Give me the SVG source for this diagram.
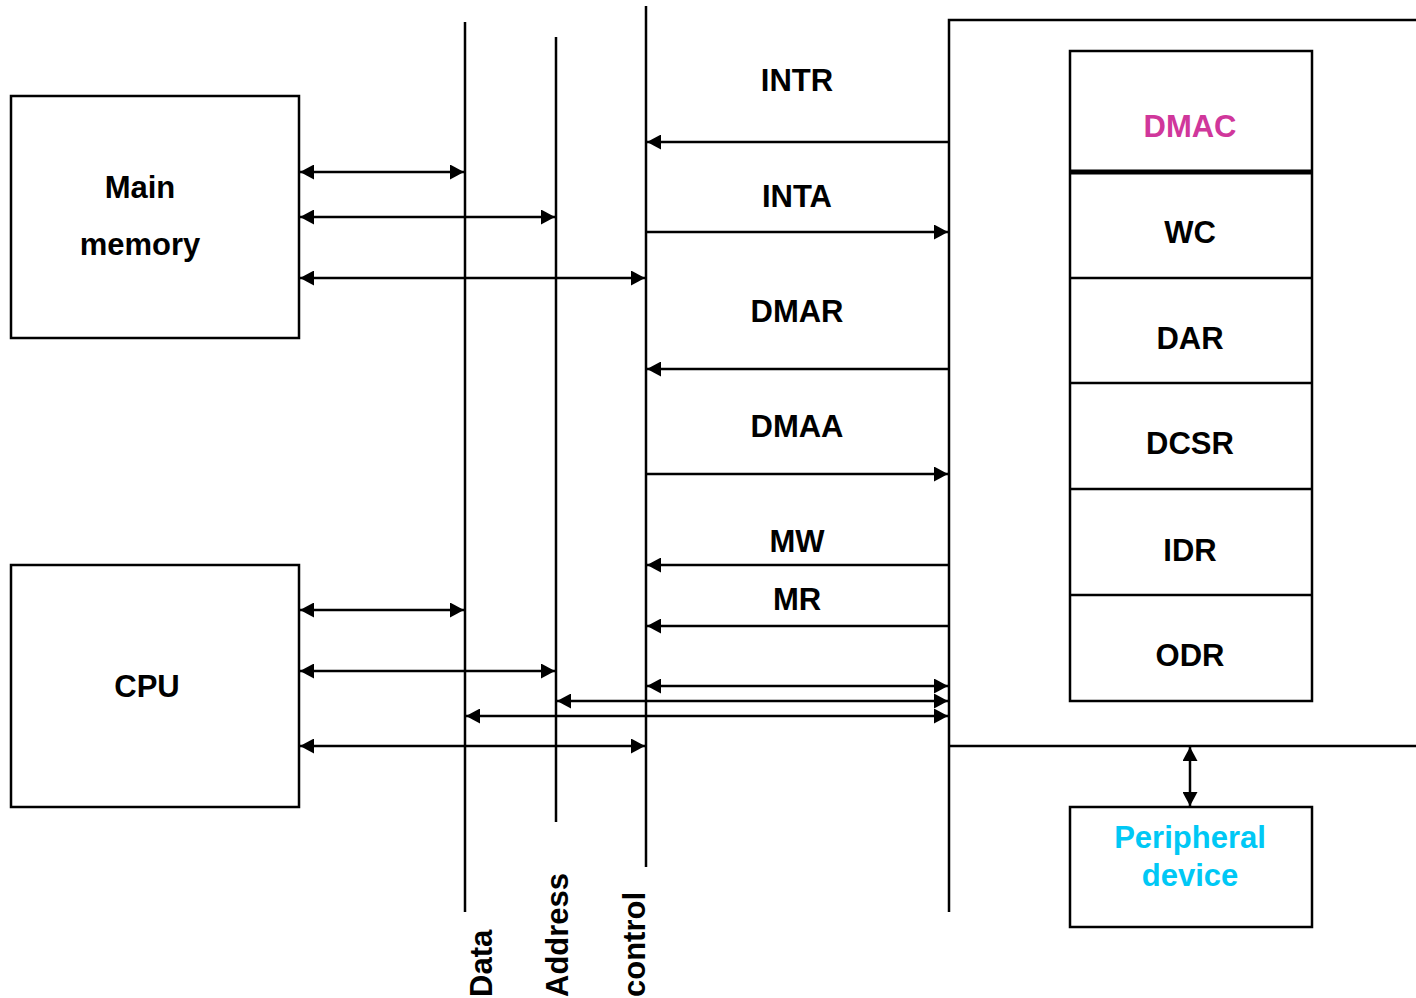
<svg xmlns="http://www.w3.org/2000/svg" width="1416" height="998" viewBox="0 0 1416 998">
<style>
.ln{stroke:#000;stroke-width:2.5;fill:none}
.bx{stroke:#000;stroke-width:2.5;fill:#fff}
.t{font-family:"Liberation Sans",Arial,sans-serif;font-weight:bold;font-size:31px;fill:#000;text-anchor:middle}
.tr{font-family:"Liberation Sans",Arial,sans-serif;font-weight:bold;font-size:31px;fill:#000}
</style>
<defs>
<marker id="ah" viewBox="0 0 14 15" refX="14" refY="7.5" markerWidth="14" markerHeight="15" markerUnits="userSpaceOnUse" orient="auto-start-reverse">
<path d="M0,0 L14,7.5 L0,15 Z" fill="#000"/>
</marker>
</defs>
<g id="buses">
<line class="ln" x1="465" y1="22" x2="465" y2="912"/>
<line class="ln" x1="556" y1="37" x2="556" y2="822"/>
<line class="ln" x1="646" y1="6" x2="646" y2="867"/>
<text class="tr" transform="translate(492,997) rotate(-90)">Data</text>
<text class="tr" transform="translate(568,997) rotate(-90)">Address</text>
<text class="tr" transform="translate(645,997) rotate(-90)">control</text>
</g>
<g id="dma-boundary">
<polyline class="ln" points="1416,20 949,20 949,912"/>
<line class="ln" x1="949" y1="746" x2="1416" y2="746"/>
</g>
<g id="main-memory">
<rect class="bx" x="11" y="96" width="288" height="242"/>
<text class="t" x="140" y="198">Main</text>
<text class="t" x="140" y="255">memory</text>
</g>
<g id="cpu">
<rect class="bx" x="11" y="565" width="288" height="242"/>
<text class="t" x="147" y="697">CPU</text>
</g>
<g id="dmac">
<rect class="bx" x="1070" y="51" width="242" height="650"/>
<line x1="1070" y1="172" x2="1312" y2="172" stroke="#000" stroke-width="5"/>
<line class="ln" x1="1070" y1="278" x2="1312" y2="278"/>
<line class="ln" x1="1070" y1="383" x2="1312" y2="383"/>
<line class="ln" x1="1070" y1="489" x2="1312" y2="489"/>
<line class="ln" x1="1070" y1="595" x2="1312" y2="595"/>
<text class="t" x="1190" y="137" style="fill:#D0379B">DMAC</text>
<text class="t" x="1190" y="243">WC</text>
<text class="t" x="1190" y="349">DAR</text>
<text class="t" x="1190" y="454">DCSR</text>
<text class="t" x="1190" y="561">IDR</text>
<text class="t" x="1190" y="666">ODR</text>
</g>
<g id="peripheral">
<rect class="bx" x="1070" y="807" width="242" height="120"/>
<text class="t" x="1190" y="848" style="fill:#00C8F5">Peripheral</text>
<text class="t" x="1190" y="886" style="fill:#00C8F5">device</text>
</g>
<g id="signal-labels">
<text class="t" x="797" y="91">INTR</text>
<text class="t" x="797" y="207">INTA</text>
<text class="t" x="797" y="322">DMAR</text>
<text class="t" x="797" y="437">DMAA</text>
<text class="t" x="797" y="552">MW</text>
<text class="t" x="797" y="610">MR</text>
</g>
<g id="connectors">
<line class="ln" x1="300" y1="172" x2="464" y2="172" marker-start="url(#ah)" marker-end="url(#ah)"/>
<line class="ln" x1="300" y1="217" x2="555" y2="217" marker-start="url(#ah)" marker-end="url(#ah)"/>
<line class="ln" x1="300" y1="278" x2="645" y2="278" marker-start="url(#ah)" marker-end="url(#ah)"/>
<line class="ln" x1="300" y1="610" x2="464" y2="610" marker-start="url(#ah)" marker-end="url(#ah)"/>
<line class="ln" x1="300" y1="671" x2="555" y2="671" marker-start="url(#ah)" marker-end="url(#ah)"/>
<line class="ln" x1="300" y1="746" x2="645" y2="746" marker-start="url(#ah)" marker-end="url(#ah)"/>
<line class="ln" x1="948" y1="142" x2="647" y2="142" marker-end="url(#ah)"/>
<line class="ln" x1="647" y1="232" x2="948" y2="232" marker-end="url(#ah)"/>
<line class="ln" x1="948" y1="369" x2="647" y2="369" marker-end="url(#ah)"/>
<line class="ln" x1="647" y1="474" x2="948" y2="474" marker-end="url(#ah)"/>
<line class="ln" x1="948" y1="565" x2="647" y2="565" marker-end="url(#ah)"/>
<line class="ln" x1="948" y1="626" x2="647" y2="626" marker-end="url(#ah)"/>
<line class="ln" x1="647" y1="686" x2="948" y2="686" marker-start="url(#ah)" marker-end="url(#ah)"/>
<line class="ln" x1="557" y1="701" x2="948" y2="701" marker-start="url(#ah)" marker-end="url(#ah)"/>
<line class="ln" x1="466" y1="716" x2="948" y2="716" marker-start="url(#ah)" marker-end="url(#ah)"/>
<line class="ln" x1="1190" y1="747" x2="1190" y2="806" marker-start="url(#ah)" marker-end="url(#ah)"/>
</g>
</svg>
